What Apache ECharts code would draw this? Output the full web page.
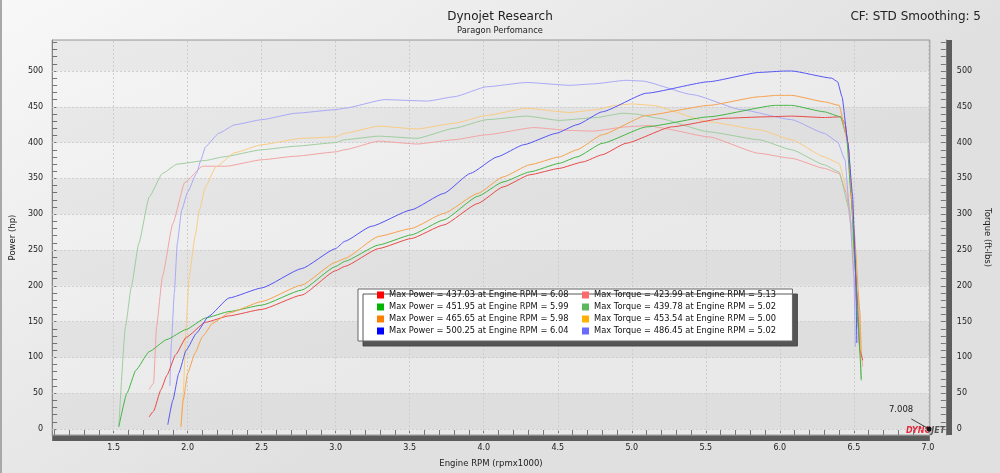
<!DOCTYPE html>
<html>
<head>
<meta charset="utf-8">
<script src="https://cdn.jsdelivr.net/npm/echarts@6/dist/echarts.min.js"></script>
<style>
html, body { margin: 0; padding: 0; }
#chart { width: 1000px; height: 473px; }
</style>
</head>
<body>
<div id="chart"></div>
<script>
// dyno runs, [engine rpm x1000, value]
var redPower = [[1.74,17],[1.77,25],[1.82,55],[1.86,75],[1.92,104],[1.99,128],[2.12,149],[2.28,158],[2.50,167],[2.77,187],[3.00,221],[3.06,227],[3.29,252],[3.51,266],[3.73,285],[3.96,315],[4.13,338],[4.31,355],[4.51,364],[4.67,373],[4.80,383],[4.96,399],[5.27,422],[5.63,434],[5.90,436],[6.08,437],[6.30,435],[6.41,436],[6.44,427],[6.46,399],[6.49,306],[6.52,190],[6.54,110],[6.56,96]];
var greenPower = [[1.535,3],[1.59,50],[1.65,82],[1.74,108],[1.86,125],[1.99,139],[2.12,155],[2.28,164],[2.50,173],[2.77,194],[3.00,227],[3.06,234],[3.29,257],[3.51,271],[3.73,292],[3.96,325],[4.13,345],[4.31,359],[4.51,371],[4.63,380],[4.80,399],[5.10,422],[5.52,436],[5.97,452],[6.08,452],[6.30,443],[6.41,436],[6.45,410],[6.48,330],[6.51,220],[6.53,140],[6.55,68]];
var orangePower = [[1.955,3],[1.97,40],[2.00,78],[2.05,106],[2.10,129],[2.17,148],[2.28,162],[2.50,178],[2.77,201],[3.00,233],[3.06,238],[3.29,269],[3.51,280],[3.73,301],[3.96,329],[4.13,352],[4.31,369],[4.51,380],[4.63,390],[4.80,411],[5.10,438],[5.52,452],[5.86,464],[5.98,466],[6.08,466],[6.30,457],[6.40,452],[6.46,400],[6.50,282],[6.54,166],[6.55,106]];
var bluePower = [[1.866,6],[1.90,40],[1.94,78],[1.99,110],[2.06,134],[2.14,157],[2.28,183],[2.50,197],[2.77,224],[3.00,252],[3.06,262],[3.24,283],[3.51,306],[3.73,329],[3.91,357],[4.09,380],[4.27,397],[4.49,413],[4.63,425],[4.80,443],[5.10,469],[5.52,485],[5.86,498],[6.04,500],[6.08,500],[6.35,490],[6.39,485],[6.42,464],[6.46,399],[6.49,329],[6.51,236],[6.52,120]];

var redTorque = [[1.74,55],[1.77,64],[1.79,143],[1.83,213],[1.90,287],[1.98,344],[2.10,367],[2.26,367],[2.50,376],[2.73,381],[3.00,387],[3.06,390],[3.29,402],[3.55,398],[3.80,404],[4.02,411],[4.34,421],[4.58,417],[4.74,416],[4.96,422],[5.13,424],[5.18,421],[5.52,408],[5.86,385],[6.08,378],[6.30,364],[6.40,357],[6.45,329],[6.48,283],[6.51,190],[6.55,106],[6.56,87]];
var greenTorque = [[1.535,3],[1.58,143],[1.62,199],[1.67,259],[1.74,324],[1.83,357],[1.93,370],[2.12,375],[2.24,380],[2.50,390],[2.73,395],[3.00,400],[3.06,404],[3.29,409],[3.55,406],[3.80,420],[4.02,432],[4.29,437],[4.51,431],[4.76,435],[4.94,441],[5.02,440],[5.18,434],[5.52,415],[5.86,404],[6.08,390],[6.30,369],[6.40,359],[6.47,306],[6.50,250],[6.53,180],[6.55,70]];
var orangeTorque = [[1.955,3],[1.97,50],[1.99,143],[2.01,213],[2.05,269],[2.08,306],[2.12,338],[2.19,366],[2.32,386],[2.50,397],[2.77,406],[3.00,408],[3.06,413],[3.29,423],[3.55,419],[3.80,427],[4.02,438],[4.29,448],[4.58,442],[4.76,446],[4.89,452],[5.00,454],[5.14,452],[5.52,429],[5.86,418],[6.08,404],[6.30,380],[6.40,371],[6.46,329],[6.50,236],[6.54,120],[6.55,95]];
var blueTorque = [[1.88,60],[1.89,120],[1.91,190],[1.93,259],[1.96,306],[2.00,331],[2.06,357],[2.09,376],[2.12,394],[2.21,413],[2.32,425],[2.50,432],[2.73,441],[3.00,446],[3.06,448],[3.33,460],[3.62,458],[3.80,464],[4.02,478],[4.29,484],[4.58,480],[4.74,482],[4.96,487],[5.07,486],[5.41,467],[5.74,446],[6.08,432],[6.30,413],[6.39,401],[6.44,376],[6.47,306],[6.50,213],[6.51,115]];

// legend summary values
var maxPower = [437.03, 451.95, 465.65, 500.25];
var maxPowerRpm = [6.08, 5.99, 5.98, 6.04];
var maxTorque = [423.99, 439.78, 453.54, 486.45];
var maxTorqueRpm = [5.13, 5.02, 5.00, 5.02];

var rpmTicks = [1.5, 2.0, 2.5, 3.0, 3.5, 4.0, 4.5, 5.0, 5.5, 6.0, 6.5, 7.0];
var valueTicks = [0, 50, 100, 150, 200, 250, 300, 350, 400, 450, 500];
var cursorRpm = 7.008;

var xMin = 1.085, xMax = 7.013;
var yMin = -8.4, yMax = 543.3;
var font = 'DejaVu Sans';

var powerData = [redPower, greenPower, orangePower, bluePower];
var torqueData = [redTorque, greenTorque, orangeTorque, blueTorque];
var powerKey = ['#ff0000', '#00b400', '#ff8000', '#0000ff'];
var torqueKey = ['#ff6a6a', '#5cb85c', '#ffb000', '#6a6aff'];
var powerLine = ['#e84a4a', '#45b545', '#f7a24c', '#5555f5'];
var torqueLine = ['#f3a3a3', '#9fcd9f', '#f9cc84', '#a9a9f7'];

var powerNames = maxPower.map(function (v, i) {
    return 'Max Power = ' + v.toFixed(2) + ' at Engine RPM = ' + maxPowerRpm[i].toFixed(2);
});
var torqueNames = maxTorque.map(function (v, i) {
    return 'Max Torque = ' + v.toFixed(2) + ' at Engine RPM = ' + maxTorqueRpm[i].toFixed(2);
});

var minorX = [];
for (var i = 11; i <= 70; i++) minorX.push(i / 10);
var minorY = [];
for (var j = 0; j <= 540; j += 10) minorY.push(j);

// grey bands every other 50
var bands = [];
for (var b = 0; b < 550; b += 100) bands.push([b, Math.min(b + 50, yMax)]);

var series = [];
// background grid lines and bands
series.push({
    type: 'line',
    data: [],
    silent: true,
    z: 1,
    markArea: {
        silent: true,
        z: 1,
        itemStyle: { color: 'rgba(0,0,0,0.045)' },
        data: bands.map(function (r) { return [{ yAxis: r[0] }, { yAxis: r[1] }]; })
    },
    markLine: {
        silent: true,
        z: 1,
        symbol: ['none', 'none'],
        label: { show: false },
        lineStyle: { type: [2, 2], color: '#cdcdcd', width: 1 },
        data: rpmTicks.map(function (v) { return { xAxis: v }; })
            .concat(valueTicks.map(function (v) { return { yAxis: v }; }))
    }
});

torqueData.forEach(function (d, i) {
    series.push({
        name: torqueNames[i],
        type: 'line',
        data: d,
        showSymbol: false,
        smooth: 0.15,
        smoothMonotone: 'x',
        z: 2,
        lineStyle: { width: 1, color: torqueLine[i] },
        itemStyle: { color: torqueKey[i] },
        emphasis: { disabled: true }
    });
});
powerData.forEach(function (d, i) {
    series.push({
        name: powerNames[i],
        type: 'line',
        data: d,
        showSymbol: false,
        smooth: 0.15,
        smoothMonotone: 'x',
        z: 3,
        lineStyle: { width: 1, color: powerLine[i] },
        itemStyle: { color: powerKey[i] },
        emphasis: { disabled: true }
    });
});

// cursor readout at the right end
series[series.length - 1].markPoint = {
    silent: true,
    z: 3,
    symbol: 'circle',
    symbolSize: 5,
    itemStyle: { color: '#111' },
    label: {
        show: true,
        formatter: cursorRpm.toFixed(3),
        offset: [-28, -19],
        color: '#222',
        fontFamily: font,
        fontSize: 8.5
    },
    data: [{ coord: [cursorRpm, 0] }]
};
series[series.length - 1].markLine = {
    silent: true,
    z: 3,
    symbol: ['none', 'none'],
    label: { show: false },
    lineStyle: { type: 'solid', color: '#444', width: 1 },
    data: [[{ coord: [cursorRpm - 0.12, 14] }, { coord: [cursorRpm, 0] }]]
};

var legendText = { fontFamily: font, fontSize: 8.3, color: '#111' };

var option = {
    animation: false,
    backgroundColor: {
        type: 'linear', x: 0, y: 0, x2: 0.3, y2: 1,
        colorStops: [{ offset: 0, color: '#f8f8f8' }, { offset: 1, color: '#e0e0e0' }]
    },
    title: [{
        text: 'Dynojet Research',
        subtext: 'Paragon Perfomance',
        left: 'center',
        top: 6,
        itemGap: 4,
        textStyle: { fontFamily: font, fontSize: 12, fontWeight: 'normal', color: '#222' },
        subtextStyle: { fontFamily: font, fontSize: 8.3, color: '#222' }
    }, {
        text: 'CF: STD Smoothing: 5',
        right: 14,
        top: 6,
        textStyle: { fontFamily: font, fontSize: 12, fontWeight: 'normal', color: '#222' }
    }],
    legend: [{
        data: powerNames.map(function (n, i) {
            return { name: n, itemStyle: { color: powerKey[i] } };
        }),
        orient: 'vertical',
        left: 358,
        top: 289,
        padding: [2, 224, 6, 19],
        itemGap: 4,
        itemWidth: 7,
        itemHeight: 7,
        icon: 'rect',
        selectedMode: false,
        z: 10,
        backgroundColor: '#ffffff',
        borderColor: '#666',
        borderWidth: 1,
        shadowColor: 'rgba(70,70,70,0.9)',
        shadowOffsetX: 5,
        shadowOffsetY: 5,
        textStyle: legendText
    }, {
        data: torqueNames.map(function (n, i) {
            return { name: n, itemStyle: { color: torqueKey[i] } };
        }),
        orient: 'vertical',
        left: 582,
        top: 291,
        padding: 0,
        itemGap: 4,
        itemWidth: 7,
        itemHeight: 7,
        icon: 'rect',
        selectedMode: false,
        z: 11,
        textStyle: legendText
    }],
    grid: {
        show: true,
        left: 45,
        right: 68,
        top: 40,
        bottom: 38,
        borderColor: '#999',
        borderWidth: 1,
        backgroundColor: {
            type: 'linear', x: 0, y: 0, x2: 0.2, y2: 1,
            colorStops: [{ offset: 0, color: '#f5f5f5' }, { offset: 1, color: '#e9e9e9' }]
        }
    },
    xAxis: [{
        type: 'value',
        min: xMin,
        max: xMax,
        name: 'Engine RPM (rpmx1000)',
        nameLocation: 'middle',
        nameGap: 24,
        nameTextStyle: { fontFamily: font, fontSize: 8.5, color: '#222' },
        axisLine: { onZero: false, lineStyle: { color: '#888' } },
        axisTick: { inside: true, length: 5, customValues: minorX, lineStyle: { color: '#777' } },
        axisLabel: {
            customValues: rpmTicks,
            formatter: function (v) { return v.toFixed(1); },
            margin: 9,
            fontFamily: font,
            fontSize: 8,
            color: '#222'
        },
        splitLine: { show: false }
    }, {
        type: 'value',
        min: xMin,
        max: xMax,
        position: 'bottom',
        offset: 3,
        axisLine: { onZero: false, lineStyle: { color: '#5c5c5c', width: 5, cap: 'butt' } },
        axisTick: { show: false },
        axisLabel: { show: false },
        splitLine: { show: false }
    }],
    yAxis: [{
        type: 'value',
        min: yMin,
        max: yMax,
        position: 'left',
        name: 'Power (hp)',
        nameLocation: 'middle',
        nameGap: 31,
        nameTextStyle: { fontFamily: font, fontSize: 8.5, color: '#222' },
        axisLine: { show: true, onZero: false, lineStyle: { color: '#888' } },
        axisTick: { show: true, inside: true, length: 5, customValues: minorY, lineStyle: { color: '#777' } },
        axisLabel: { customValues: valueTicks, margin: 9, fontFamily: font, fontSize: 8, color: '#222' },
        splitLine: { show: false }
    }, {
        type: 'value',
        min: yMin,
        max: yMax,
        position: 'right',
        offset: 16,
        name: 'Torque (ft-lbs)',
        nameLocation: 'middle',
        nameRotate: -90,
        nameGap: 36,
        nameTextStyle: { fontFamily: font, fontSize: 8.5, color: '#222' },
        axisLine: { show: true, onZero: false, lineStyle: { color: '#777' } },
        axisTick: { show: true, inside: true, length: 5, customValues: minorY, lineStyle: { color: '#777' } },
        axisLabel: { customValues: valueTicks, margin: 11, fontFamily: font, fontSize: 8, color: '#222' },
        splitLine: { show: false }
    }, {
        type: 'value',
        min: yMin,
        max: yMax,
        position: 'right',
        offset: 19,
        axisLine: { show: true, onZero: false, lineStyle: { color: '#5c5c5c', width: 5, cap: 'butt' } },
        axisTick: { show: false },
        axisLabel: { show: false },
        splitLine: { show: false }
    }],
    graphic: [{
        type: 'rect',
        left: 0,
        top: 0,
        shape: { width: 2, height: 473 },
        style: { fill: '#a8a8a8' },
        silent: true
    }, {
        type: 'text',
        left: 906,
        top: 427,
        silent: true,
        style: {
            text: '{a|DYNO}{b|JET}',
            rich: {
                a: { fontFamily: font, fontSize: 8, fontStyle: 'italic', fontWeight: 'bold', fill: '#e8283c' },
                b: { fontFamily: font, fontSize: 8, fontStyle: 'italic', fontWeight: 'bold', fill: '#555' }
            }
        }
    }],
    series: series
};

var chart = echarts.init(document.getElementById('chart'));
chart.setOption(option);
</script>
</body>
</html>
